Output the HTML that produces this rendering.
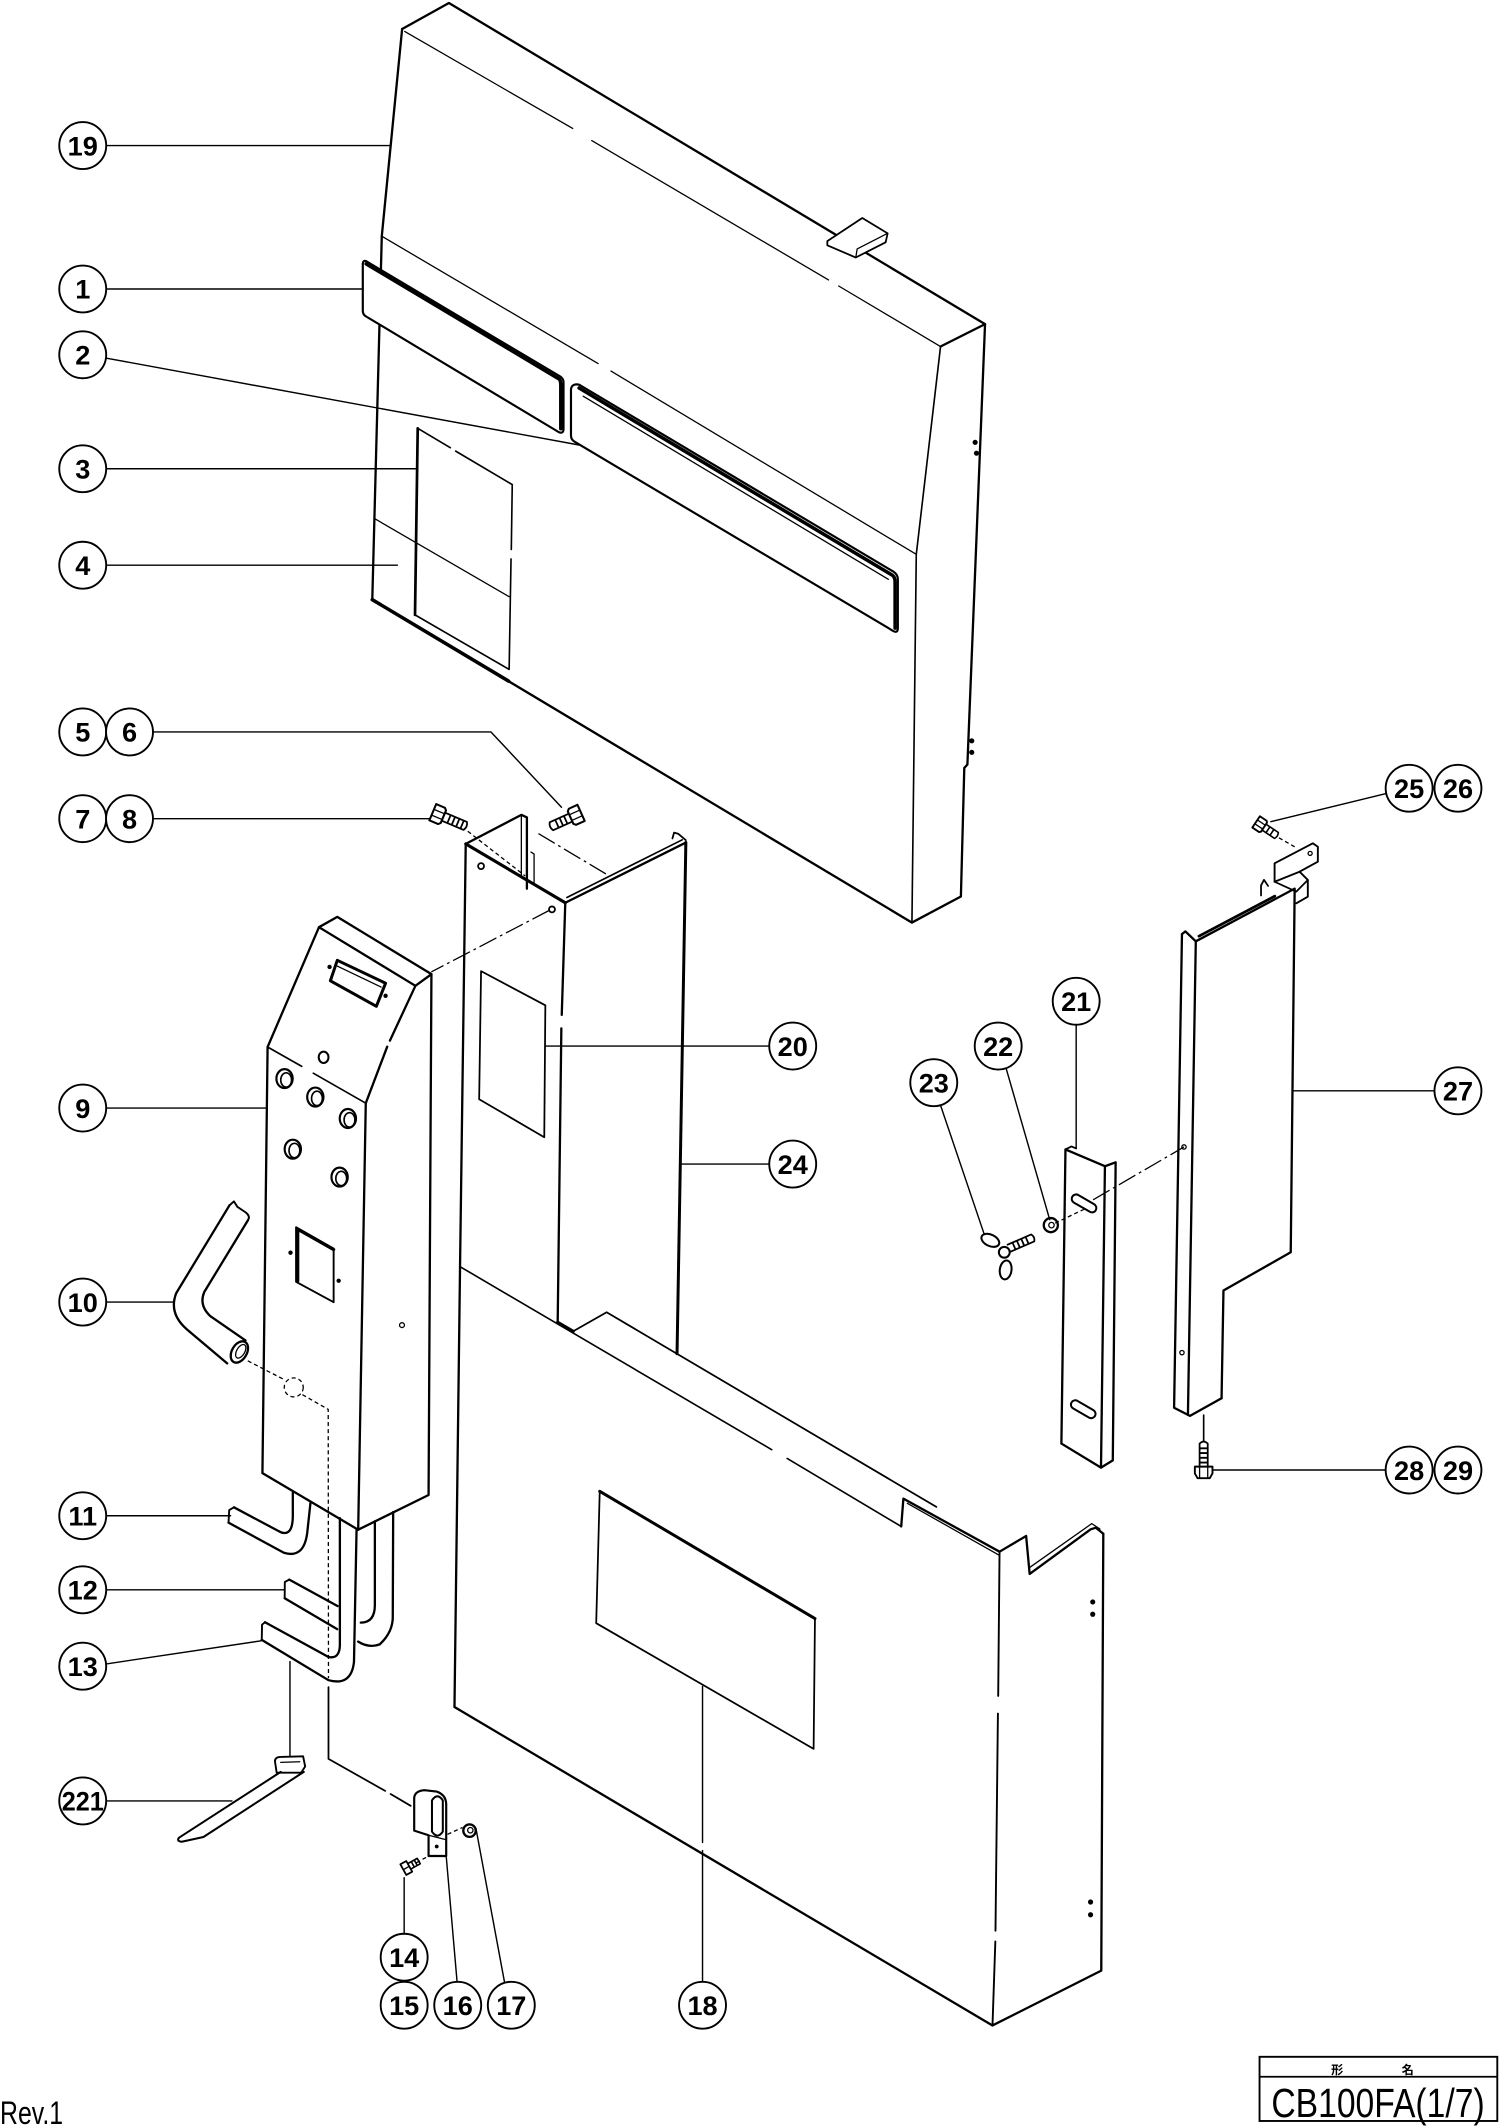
<!DOCTYPE html>
<html><head><meta charset="utf-8">
<style>
html,body{margin:0;padding:0;background:#fff}
svg{display:block}
.o{fill:none;stroke:#000;stroke-width:1.7;stroke-linejoin:round;stroke-linecap:round}
.t{fill:none;stroke:#000;stroke-width:0.95;stroke-linejoin:round;stroke-linecap:round}
.k{fill:none;stroke:#000;stroke-width:2.6;stroke-linejoin:round;stroke-linecap:round}
.w{fill:#fff;stroke:#000;stroke-width:1.6;stroke-linejoin:round}
.d{fill:none;stroke:#000;stroke-width:0.95;stroke-dasharray:3 2.2}
.dd{fill:none;stroke:#000;stroke-width:0.95;stroke-dasharray:14 3 2 3}
.c circle{fill:#fff;stroke:#000;stroke-width:1.4}
.c text{font-family:"Liberation Sans",Arial,sans-serif;font-weight:bold;font-size:20px;text-anchor:middle;fill:#000}
</style></head>
<body>
<svg xmlns="http://www.w3.org/2000/svg" width="1500" height="2126" viewBox="0 0 1106 1567" preserveAspectRatio="none">
<rect x="0" y="0" width="1106" height="1567" fill="#fff"/>

<!-- ===== Leaders ===== -->
<g class="t" style="stroke-width:1.05">
<path d="M78.5,107.3 L288,107.3"/>
<path d="M78.5,213 L268,213"/>
<path d="M78.5,264 L427,328"/>
<path d="M78.5,345.5 L307.5,345.5"/>
<path d="M78.5,416.6 L293,416.6"/>
<path d="M113,539.5 L362,539.5 L414,595"/>
<path d="M113,603.4 L318,603.4"/>
<path d="M78.5,816.7 L196,816.7"/>
<path d="M78.5,959.7 L128.5,959.7"/>
<path d="M78.5,1117.2 L170,1117.2"/>
<path d="M78.5,1171.8 L210,1171.8"/>
<path d="M78.5,1226.4 L192.5,1209.4"/>
<path d="M78.5,1327.4 L171,1327.4"/>
<path d="M298,1425 L298,1384"/>
<path d="M337,1460.5 L329,1368"/>
<path d="M372,1461 L351,1348"/>
<path d="M518,1460.5 L518,1364 M518,1358 L518,1243"/>
<path d="M567,771 L402.6,771"/>
<path d="M567,858 L502,858"/>
<path d="M793.5,755.5 L793.5,846"/>
<path d="M742,788 L774,899"/>
<path d="M693.6,815 L726,910.6"/>
<path d="M1021.6,585 L937,605.6"/>
<path d="M1057.5,804 L953,804"/>
<path d="M1021.5,1083.5 L893,1083.5"/>
<path d="M213.8,1224.7 L213.8,1296.4"/>
</g>

<!-- ===== Part 19 (top cover) ===== -->
<path class="o" d="M296.5,21.4 L331,2.2 L726.3,238.9 L693.5,255.4"/>
<path class="o" d="M296.5,21.4 L281.5,174.1 L274.5,442 L672.4,680 L708.5,660.8 L711,566 L713.3,563.5 L726.3,238.9"/>
<path class="k" d="M274.5,442 L375,502"/>
<path class="t" style="stroke-width:1.2" d="M693.5,255.4 L675.6,408.6 L672.4,680"/>
<path class="t" d="M298.4,23.2 L422.3,94.7 M436.3,103.6 L610.9,206.3 M618.4,210.8 L693.5,255.4"/>
<path class="t" d="M281.5,174.1 L441,268 M450.5,273.5 L675.6,408.6"/>
<path class="t" d="M276.8,382.6 L375.4,439.8"/>
<!-- sticker 3/4 -->
<path class="t" style="stroke-width:1.2" d="M308,315.7 L332,330 M336,332.5 L377.7,357.2 L377,405 M376.8,412 L375.4,493.4 L306,453.2"/>
<path class="o" style="stroke-width:2" d="M308,315.7 L306,453.2"/>
<!-- tab -->
<path class="w" style="stroke-width:1.3" d="M610,177.7 L635.8,160.7 L654.5,172 L653,178.6 L631,189.8 L610,180.8 Z"/>
<path class="t" d="M631,189.8 L632,183.5 L654.5,172"/>
<!-- label 1 -->
<path class="w" d="M270,192.5 L413,277.5 Q415.5,279 415.5,282 L415.5,316 Q415.5,320 412,318.5 L269.5,233 Q267.5,231.5 267.5,229 L267.5,195 Q267.5,191.5 270,192.5 Z"/>
<path class="k" d="M270,194.5 L412.5,279.5 Q413.5,281 413.5,284 L413.5,316"/>
<!-- label 2 -->
<path class="w" d="M427,283.5 L659,421.5 Q662,423.5 662,427 L662,463 Q662,467 658.5,465 L423.5,325.5 Q421,324 421,321 L421,287 Q421.5,282.5 427,283.5 Z"/>
<path class="k" d="M427,286 L658,424 Q660,425.5 660,429 L660,463"/>
<path class="t" d="M430,292 L655,427"/>
<g fill="#000"><circle cx="719" cy="326" r="1.9"/><circle cx="720" cy="334" r="1.9"/><circle cx="716.5" cy="546" r="1.9"/><circle cx="716.5" cy="554.5" r="1.9"/></g>

<!-- ===== Part 24 (channel) ===== -->
<path class="o" d="M343.4,622 L339.2,933.6"/>
<path class="k" style="stroke-width:2.3" d="M343.4,622 L416.8,665.4"/>
<path class="o" d="M416.8,665.4 L414.2,748 M413.9,758 L411.2,974.8"/>
<path class="o" d="M343.4,622 L384.4,600.6 L388.5,602.5 L388.5,655"/>
<path class="t" d="M384.4,600.6 L384.4,646 M391.5,628 L393.8,629.5 L393.8,652"/>
<path class="o" d="M416.8,665.4 L505.7,621"/>
<path class="o" style="stroke-width:1.2" d="M418,661.5 L503,619"/>
<path class="k" style="stroke-width:2.2" d="M505.7,621 L499.2,997.8"/>
<path class="o" style="stroke-width:1.3" d="M495.8,618 L497,613.7 L500,614.5 L505.7,619.3"/>
<path class="d" d="M344.9,612.7 L387.2,645.6"/>
<path class="dd" d="M397,614.4 L449.2,645.6"/>
<circle class="o" style="stroke-width:1.3" cx="354.7" cy="638.4" r="2.2"/>
<circle class="o" style="stroke-width:1.3" cx="407" cy="670.3" r="2.2"/>
<path class="dd" d="M405,671 L318,716.4"/>
<path class="o" style="stroke-width:1.3" d="M354.7,715.8 L402.1,741 L401.3,838.2 L353.3,810.2 Z"/>

<!-- ===== Part 18 (lower cover) ===== -->
<path class="o" d="M339.2,933.6 L335.1,1258.2 L731.8,1492.9 L812,1452.5 L813.5,1130.5"/>
<path class="t" style="stroke-width:1.2" d="M339.2,933.6 L569,1068.5 M580.4,1075 L664.5,1125.1"/>
<path class="k" d="M411.2,974.8 L422.5,981.3"/>
<path class="o" style="stroke-width:1.3" d="M422.5,981.3 L447.3,967.2 L690.4,1110.7"/>
<path class="o" d="M664.5,1125.1 L666.1,1104.6 L737,1143.7"/>
<path class="t" d="M669,1108 L737,1146.5"/>
<path class="o" style="stroke-width:1.4" d="M737,1143.7 L736,1250 M735.8,1263 L734,1423 M733.9,1431 L731.8,1492.9"/>
<path class="o" d="M737,1143.7 L756.6,1132.1 L759.2,1160.1 L804.2,1127.2 L808,1126 L813.5,1130.5"/>
<path class="t" d="M759,1155.5 L805,1123 L811,1127"/>
<path class="o" style="stroke-width:1.3" d="M442.2,1099.2 L600.9,1193 L599.9,1289 L439.6,1196.4 Z"/>
<path class="k" style="stroke-width:2.2" d="M442.2,1099.2 L600.9,1193"/>
<g fill="#000"><circle cx="805.7" cy="1180.7" r="1.9"/><circle cx="805.7" cy="1189.8" r="1.9"/><circle cx="804.1" cy="1401.9" r="1.9"/><circle cx="804.1" cy="1411.3" r="1.9"/></g>

<!-- ===== Part 9 (control box) ===== -->
<path class="o" d="M235.2,683.4 L248.7,675.8 L318.1,718 L306.3,726.6 Z"/>
<path class="o" d="M235.2,683.4 L197.3,771.7 L193.5,1085.8 L264.1,1127.5 L316,1101.9 L318.1,718"/>
<path class="o" d="M306.3,726.6 L287.5,767 M285.5,771.5 L269.7,813.1 L264.1,1127.5"/>
<path class="t" style="stroke-width:1.2" d="M197.3,771.7 L222.5,786 M231,791 L269.7,813.1"/>
<path class="k" style="stroke-width:2.2" d="M248.7,707.8 L284.3,724.7 L277.5,741.7 L243.6,722.9 Z"/>
<path class="t" d="M247.5,711.5 L281,727.5"/>
<g fill="#000"><circle cx="243" cy="712.7" r="1.6"/><circle cx="284.3" cy="734" r="1.6"/><circle cx="214.2" cy="923.3" r="1.6"/><circle cx="249.7" cy="944" r="1.6"/></g>
<ellipse class="o" style="stroke-width:1.5" cx="238.6" cy="779.3" rx="3.6" ry="4.2"/>
<g class="o" style="stroke-width:1.6">
<ellipse cx="209.8" cy="795" rx="6" ry="7"/><ellipse cx="232.5" cy="808.6" rx="6" ry="7"/><ellipse cx="256.5" cy="824.4" rx="6" ry="7"/><ellipse cx="215.9" cy="847" rx="6" ry="7"/><ellipse cx="250.4" cy="867.6" rx="6" ry="7"/>
</g>
<g class="t" style="stroke-width:1.2">
<ellipse cx="211" cy="796" rx="4" ry="5.3"/><ellipse cx="233.7" cy="809.6" rx="4" ry="5.3"/><ellipse cx="257.7" cy="825.4" rx="4" ry="5.3"/><ellipse cx="217.1" cy="848" rx="4" ry="5.3"/><ellipse cx="251.6" cy="868.6" rx="4" ry="5.3"/>
</g>
<path class="o" style="stroke-width:1.4" d="M218.3,904.5 L246,920.3 L246,959.8 L218.3,944.8 Z"/>
<path class="k" style="stroke-width:2.4" d="M219.5,944 L219.5,906 L246,921"/>
<circle class="t" cx="296.4" cy="976.7" r="1.8"/>
<circle class="d" cx="216.6" cy="1022.6" r="7"/>
<path class="d" d="M182.7,1003 L209.8,1017 M223,1028 L242,1038.8 L242.2,1237"/>

<!-- ===== Hose 10 ===== -->
<path class="o" d="M169.2,888.4 L130,953 Q124,968 138,980 L167.5,1004.9"/>
<path class="o" d="M182.7,899.6 L150.6,952.3 Q146.5,962 155,970 L181,988"/>
<path class="o" style="stroke-width:1.4" d="M169.2,888.4 L172.5,885.5 L175,889.5 L181,893.5 Q185,896.5 182.7,899.6"/>
<ellipse class="o" cx="176.5" cy="996.5" rx="5.5" ry="8.5" transform="rotate(30 176.5 996.5)"/>
<ellipse class="t" cx="177.5" cy="996" rx="3" ry="5.5" transform="rotate(30 177.5 996)"/>

<!-- ===== Tubes 11,12,13 ===== -->
<path class="o" d="M172.5,1111 L206.7,1129.2 Q215.9,1133 215.9,1117 L215.9,1100.2"/>
<path class="o" d="M168.5,1122.3 L209.3,1144.5 Q224,1149 226.5,1130 L229,1107"/>
<path class="o" style="stroke-width:1.4" d="M172.5,1111 L169,1113 L168.5,1122.3"/>
<path class="o" d="M213.3,1164.3 L249,1183.8 M209.9,1178 L248.6,1200.8"/>
<path class="o" style="stroke-width:1.4" d="M213.3,1164.3 L210,1166 L209.9,1178"/>
<path class="o" d="M195.4,1195.7 L242.2,1221.3 Q250.6,1223 250.6,1212 L250.6,1119"/>
<path class="o" d="M193,1208.7 L242.2,1238.4 Q259,1243 261,1225 L262.9,1127.5"/>
<path class="o" style="stroke-width:1.4" d="M195.4,1195.7 L193.2,1197.5 L193,1208.7"/>
<path class="o" d="M266,1196 Q276.4,1196 276.4,1183 L276.4,1121.4"/>
<path class="o" d="M264.1,1210 Q272,1215 280,1212 Q289.6,1203 289.6,1192 L289.9,1114.5"/>
<path class="o" style="stroke-width:1.3" d="M242.2,1243.5 L242.2,1296.4 L284,1320 M288,1322.3 L302.8,1331"/>

<!-- ===== Part 221 ===== -->
<path class="w" style="stroke-width:1.4" d="M202.7,1298 Q203,1295 207,1295 L223.5,1294.5 L225,1302 L222,1306.6 L204,1306.6 Z"/>
<path class="t" d="M207,1299 L221,1298.5"/>
<path class="o" style="stroke-width:1.5" d="M207,1306 L132,1354.5 Q130,1357 134,1357.5 L150,1354 L224,1306"/>

<!-- ===== Clip 16, screw 14, nut 17 ===== -->
<path class="w" d="M305.4,1349.3 L305.4,1325 Q306,1320 313,1319.5 L322,1320.5 Q329,1323 329,1330 L329,1368 L316,1368 L316,1352.7 Z"/>
<path class="o" style="stroke-width:1.5" d="M318.5,1327 Q322.5,1321 326.5,1327 L326.5,1350 Q322.5,1356 318.5,1350 Z"/>
<path class="t" d="M316,1352.7 L329,1356"/>
<circle cx="322" cy="1361" r="1.4" fill="#000"/>
<path class="d" d="M307,1373 L316,1368 M330,1352 L341,1347"/>
<circle class="o" cx="346.2" cy="1349.3" r="4.6"/>
<circle class="t" cx="346.8" cy="1349" r="2"/>
<g transform="translate(300,1376.6) rotate(-29)">
<path class="w" style="stroke-width:1.3" d="M-3,-4.5 L2,-4.5 L2,4.5 L-3,4.5 Z"/>
<path class="t" d="M-3,0 L2,0"/>
<path class="o" style="stroke-width:1.2" d="M2,-2.3 L10,-2.3 L10,2.3 L2,2.3 M5,-2.3 L5,2.3 M7.5,-2.3 L7.5,2.3"/>
</g>

<!-- ===== Screws 7/8, 5/6 ===== -->
<g transform="translate(323.7,600.6) rotate(22.8)">
<path class="w" style="stroke-width:1.5" d="M-5,-6.5 L2,-6.5 L3.5,-5 L3.5,5 L2,6.5 L-5,6.5 Z"/>
<path class="t" d="M-5,-2.3 L3.5,-2.3 M-5,2.3 L3.5,2.3"/>
<path class="o" style="stroke-width:1.3" d="M3.5,-3.2 L21,-3.2 Q23,0 21,3.2 L3.5,3.2 M8,-3.2 L8,3.2 M11.5,-3.2 L11.5,3.2 M15,-3.2 L15,3.2 M18.5,-3.2 L18.5,3.2"/>
</g>
<g transform="translate(423.9,601.2) rotate(155.7)">
<path class="w" style="stroke-width:1.5" d="M-5,-6.5 L2,-6.5 L3.5,-5 L3.5,5 L2,6.5 L-5,6.5 Z"/>
<path class="t" d="M-5,-2.3 L3.5,-2.3 M-5,2.3 L3.5,2.3"/>
<path class="o" style="stroke-width:1.3" d="M3.5,-3.2 L19,-3.2 Q21,0 19,3.2 L3.5,3.2 M7.5,-3.2 L7.5,3.2 M11,-3.2 L11,3.2 M14.5,-3.2 L14.5,3.2"/>
</g>

<!-- ===== Part 21 ===== -->
<path class="o" d="M785.6,847.2 L814.7,859.6 L811.8,1081.7 L782.6,1064 Z"/>
<path class="o" d="M814.7,859.6 L822.6,856.7 L820.5,1076.4 L811.8,1081.7"/>
<path class="o" style="stroke-width:1.3" d="M785.6,847.2 L790,845 L793.5,846.5"/>
<rect class="o" style="stroke-width:1.5" x="-10" y="-3.2" width="20" height="6.4" rx="3.2" transform="translate(799.3,887) rotate(30)"/>
<rect class="o" style="stroke-width:1.5" x="-10" y="-3.2" width="20" height="6.4" rx="3.2" transform="translate(798.7,1038.7) rotate(30)"/>
<path class="dd" d="M806,884.3 L873,845.4"/>
<path class="d" d="M778,901.5 L800,891"/>
<circle class="o" cx="774.8" cy="903" r="5.2"/>
<circle class="t" cx="775.3" cy="903" r="2"/>
<!-- wing bolt 23 -->
<g transform="translate(744,920) rotate(-23.4)">
<path class="o" style="stroke-width:1.3" d="M0,-2.8 L19,-2.8 Q21,0 19,2.8 L0,2.8 M4,-2.8 L4,2.8 M7.5,-2.8 L7.5,2.8 M11,-2.8 L11,2.8 M14.5,-2.8 L14.5,2.8"/>
</g>
<ellipse class="w" style="stroke-width:1.5" cx="730.2" cy="914.2" rx="7" ry="4.2" transform="rotate(25 730.2 914.2)"/>
<ellipse class="w" style="stroke-width:1.5" cx="741.5" cy="936" rx="4.3" ry="7" transform="rotate(8 741.5 936)"/>
<circle class="w" style="stroke-width:1.5" cx="740.5" cy="923" r="4"/>

<!-- ===== Part 27 ===== -->
<path class="o" d="M871.5,688.5 L865.7,1037.6 L877.4,1043.6 L900.7,1030.6"/>
<path class="o" d="M881.7,693.8 L875.9,1042.9"/>
<path class="o" d="M871.5,688.5 L874,686.5 L881.7,693.8"/>
<path class="o" d="M881.7,693.8 L954.6,655 L951.7,923 L902.1,951.2 L900.7,1030.6"/>
<path class="k" style="stroke-width:2" d="M884,690 L940,660.5"/>
<path class="o" style="stroke-width:1.4" d="M939.8,636.3 L968,621.6 L971.7,624.1 L971.7,635.1 L958.2,642.5 L939.8,649.9 Z"/>
<path class="o" style="stroke-width:1.4" d="M958.2,642.5 L964.3,648.6 L964.3,660.9 L955.8,665.8"/>
<path class="o" style="stroke-width:1.3" d="M939.8,649.9 L955.8,657.2 L964.3,648.6"/>
<path class="o" style="stroke-width:1.3" d="M929.8,660 L929.8,652.6 L932,648.5 L935,653"/>
<circle class="t" cx="966" cy="629" r="1.5"/>
<circle class="t" cx="873" cy="845.4" r="1.6"/>
<circle class="t" cx="871.5" cy="997" r="1.6"/>
<!-- screw 25 -->
<g transform="translate(929.5,608) rotate(33.7)">
<path class="w" style="stroke-width:1.4" d="M-4,-5 L2,-5 L3,-4 L3,4 L2,5 L-4,5 Z"/>
<path class="t" d="M-4,-1.7 L3,-1.7 M-4,1.7 L3,1.7"/>
<path class="o" style="stroke-width:1.2" d="M3,-2.6 L14,-2.6 Q15.5,0 14,2.6 L3,2.6 M6.5,-2.6 L6.5,2.6 M10,-2.6 L10,2.6"/>
</g>
<path class="d" d="M943,617.5 L956,625"/>
<!-- screw 28 -->
<path class="t" style="stroke-width:1.2" d="M887.5,1043 L887.5,1062"/>
<path class="o" style="stroke-width:1.3" d="M884.5,1081 L884.5,1064 Q887.5,1061 890.5,1064 L890.5,1081 M884.5,1067.5 L890.5,1067.5 M884.5,1071 L890.5,1071 M884.5,1074.5 L890.5,1074.5 M884.5,1078 L890.5,1078"/>
<path class="w" style="stroke-width:1.4" d="M881,1081 L894,1081 L894,1086 L892,1089.5 L883,1089.5 L881,1086 Z"/>
<path class="t" d="M884.5,1081 L884.5,1089.5 M890.5,1081 L890.5,1089.5"/>

<!-- ===== Callouts ===== -->
<g class="c">
<circle cx="61" cy="107.3" r="17.3"/><text x="61" y="114.5">19</text>
<circle cx="61" cy="213" r="17.3"/><text x="61" y="220.2">1</text>
<circle cx="61" cy="261.5" r="17.3"/><text x="61" y="268.7">2</text>
<circle cx="61" cy="345.5" r="17.3"/><text x="61" y="352.7">3</text>
<circle cx="61" cy="416.6" r="17.3"/><text x="61" y="423.8">4</text>
<circle cx="61" cy="539.5" r="17.3"/><text x="61" y="546.7">5</text>
<circle cx="95.5" cy="539.5" r="17.3"/><text x="95.5" y="546.7">6</text>
<circle cx="61" cy="603.4" r="17.3"/><text x="61" y="610.6">7</text>
<circle cx="95.5" cy="603.4" r="17.3"/><text x="95.5" y="610.6">8</text>
<circle cx="61" cy="816.7" r="17.3"/><text x="61" y="823.9">9</text>
<circle cx="61" cy="959.7" r="17.3"/><text x="61" y="966.9">10</text>
<circle cx="61" cy="1117.2" r="17.3"/><text x="61" y="1124.4">11</text>
<circle cx="61" cy="1171.8" r="17.3"/><text x="61" y="1179">12</text>
<circle cx="61" cy="1228.1" r="17.3"/><text x="61" y="1235.3">13</text>
<circle cx="61" cy="1327.4" r="17.3"/><text x="61" y="1334.6" textLength="31" lengthAdjust="spacingAndGlyphs">221</text>
<circle cx="298" cy="1442.6" r="17.3"/><text x="298" y="1449.8">14</text>
<circle cx="298" cy="1478" r="17.3"/><text x="298" y="1485.2">15</text>
<circle cx="337.5" cy="1478" r="17.3"/><text x="337.5" y="1485.2">16</text>
<circle cx="377" cy="1478" r="17.3"/><text x="377" y="1485.2">17</text>
<circle cx="518" cy="1478" r="17.3"/><text x="518" y="1485.2">18</text>
<circle cx="584.5" cy="771" r="17.3"/><text x="584.5" y="778.2">20</text>
<circle cx="584.5" cy="858" r="17.3"/><text x="584.5" y="865.2">24</text>
<circle cx="793.5" cy="738" r="17.3"/><text x="793.5" y="745.2">21</text>
<circle cx="736" cy="771" r="17.3"/><text x="736" y="778.2">22</text>
<circle cx="688.5" cy="798" r="17.3"/><text x="688.5" y="805.2">23</text>
<circle cx="1039" cy="581" r="17.3"/><text x="1039" y="588.2">25</text>
<circle cx="1075" cy="581" r="17.3"/><text x="1075" y="588.2">26</text>
<circle cx="1075" cy="804" r="17.3"/><text x="1075" y="811.2">27</text>
<circle cx="1039" cy="1083.5" r="17.3"/><text x="1039" y="1090.7">28</text>
<circle cx="1075" cy="1083.5" r="17.3"/><text x="1075" y="1090.7">29</text>
</g>

<!-- ===== Title block ===== -->
<rect x="928.7" y="1516" width="175.3" height="47.3" fill="none" stroke="#000" stroke-width="1.4"/>
<line x1="928.7" y1="1530.7" x2="1104" y2="1530.7" stroke="#000" stroke-width="1.2"/>
<text x="986" y="1528.6" font-family="'Liberation Sans','Noto Sans CJK JP',sans-serif" font-weight="bold" font-size="9" text-anchor="middle">形</text>
<text x="1038" y="1528.6" font-family="'Liberation Sans','Noto Sans CJK JP',sans-serif" font-weight="bold" font-size="9" text-anchor="middle">名</text>
<text x="937.4" y="1560.2" font-family="'Liberation Sans',Arial,sans-serif" font-size="30" textLength="157.3" lengthAdjust="spacingAndGlyphs">CB100FA(1/7)</text>
<text x="0" y="1565.5" font-family="'Liberation Sans',Arial,sans-serif" font-size="24" textLength="46.5" lengthAdjust="spacingAndGlyphs">Rev.1</text>
</svg>
</body></html>
